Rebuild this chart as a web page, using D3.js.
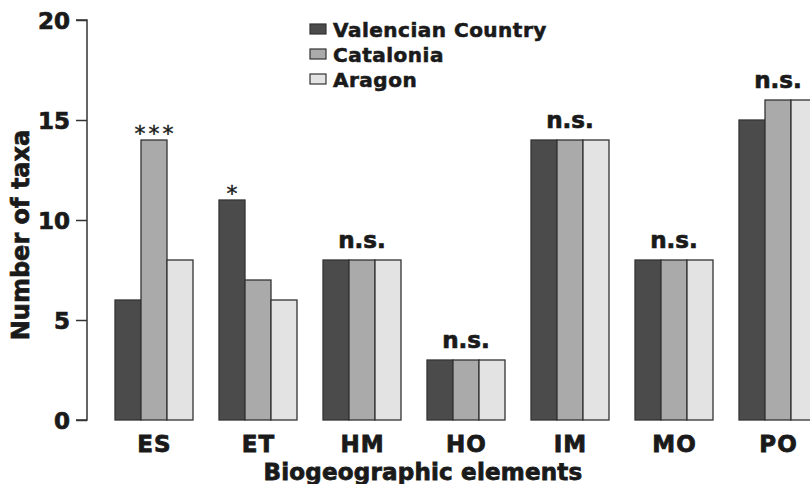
<!DOCTYPE html>
<html>
<head>
<meta charset="utf-8">
<script src="https://cdn.jsdelivr.net/npm/d3@7"></script>
<style>
  body { margin: 0; background: #fff; }
  text { font-family: "DejaVu Sans", sans-serif; font-weight: bold; fill: #1a1a1a; }
</style>
</head>
<body>
<div id="chart"></div>
<script>
var categories = ["ES", "ET", "HM", "HO", "IM", "MO", "PO"];
var seriesNames = ["Valencian Country", "Catalonia", "Aragon"];
var valencian = [6, 11, 8, 3, 14, 8, 15];
var catalonia = [14, 7, 8, 3, 14, 8, 16];
var aragon = [8, 6, 8, 3, 14, 8, 16];
var signif = ["***", "*", "n.s.", "n.s.", "n.s.", "n.s.", "n.s."];
var signifBar = [1, 0, -1, -1, -1, -1, -1]; // which bar the mark sits on, -1 = whole group
var yTicks = [0, 5, 10, 15, 20];
var colors = ["#4b4b4b", "#aaaaaa", "#e3e3e3"];

var W = 810, H = 484;
var series = [valencian, catalonia, aragon];

var svg = d3.select("#chart").append("svg")
  .attr("width", W).attr("height", H);

var y = d3.scaleLinear().domain([0, 20]).range([420, 20]);
var x = d3.scaleBand().domain(categories).range([89, 843])
  .paddingInner(0.25).paddingOuter(0.25);
var xs = d3.scaleBand().domain(d3.range(3)).range([0, x.bandwidth()]);

// y axis
var yAxis = d3.axisLeft(y).tickValues(yTicks).tickSize(11).tickPadding(6);
var gy = svg.append("g").attr("transform", "translate(87,0)").call(yAxis);
gy.select(".domain").attr("stroke", "#333").attr("stroke-width", 1.5).attr("d", "M-11,20H0V420H-11");
gy.selectAll(".tick line").attr("stroke", "#333").attr("stroke-width", 1.5);
gy.selectAll(".tick text").style("font-size", "23px").attr("fill", "#1a1a1a")
  .attr("font-family", null).attr("dy", "0.36em")
  .attr("stroke", "#1a1a1a").attr("stroke-width", 0.7);

// bars
categories.forEach(function(c, i) {
  var g = svg.append("g").attr("transform", "translate(" + x(c) + ",0)");
  g.selectAll("rect").data(series.map(function(s) { return s[i]; }))
    .enter().append("rect")
    .attr("x", function(d, j) { return xs(j); })
    .attr("y", function(d) { return y(d); })
    .attr("width", xs.bandwidth())
    .attr("height", function(d) { return y(0) - y(d); })
    .attr("fill", function(d, j) { return colors[j]; })
    .attr("stroke", "#333").attr("stroke-width", 1.3);

  var top, cx;
  if (signifBar[i] >= 0) {
    top = y(series[signifBar[i]][i]);
    cx = x(c) + xs(signifBar[i]) + xs.bandwidth() / 2;
  } else {
    top = y(d3.max(series, function(s) { return s[i]; }));
    cx = x(c) + x.bandwidth() / 2;
  }
  var isStar = signif[i].charAt(0) == "*";
  svg.append("text")
    .attr("x", isStar ? cx + 1.5 : cx)
    .attr("y", isStar ? top + 1 : top - 12)
    .attr("text-anchor", "middle")
    .style("font-size", isStar ? "22px" : "23px")
    .style("font-weight", isStar ? "normal" : "bold")
    .style("letter-spacing", isStar ? "3px" : "0px")
    .attr("stroke", "#1a1a1a").attr("stroke-width", isStar ? 0.4 : 0.7)
    .text(signif[i]);

  // category label
  svg.append("text")
    .attr("x", x(c) + x.bandwidth() / 2 + 0.5)
    .attr("y", 452)
    .attr("text-anchor", "middle")
    .style("font-size", "23px")
    .style("letter-spacing", "1px")
    .attr("stroke", "#1a1a1a").attr("stroke-width", 0.8)
    .text(c);
});

// axis titles
svg.append("text")
  .attr("x", 423).attr("y", 480)
  .attr("text-anchor", "middle")
  .style("font-size", "23px")
  .style("letter-spacing", "0.2px")
  .attr("stroke", "#1a1a1a").attr("stroke-width", 0.8)
  .text("Biogeographic elements");

svg.append("text")
  .attr("transform", "translate(29,235) rotate(-90)")
  .attr("text-anchor", "middle")
  .style("font-size", "24px")
  .attr("stroke", "#1a1a1a").attr("stroke-width", 0.7)
  .text("Number of taxa");

// legend
var legend = svg.append("g").attr("transform", "translate(310,22)");
seriesNames.forEach(function(n, j) {
  var row = legend.append("g").attr("transform", "translate(0," + (j * 25) + ")");
  row.append("rect").attr("x", 0).attr("y", 2).attr("width", 16).attr("height", 10)
    .attr("fill", colors[j]).attr("stroke", "#333").attr("stroke-width", 1.2);
  row.append("text").attr("x", 23).attr("y", 15)
    .style("font-size", "20px")
    .style("letter-spacing", "0.5px")
    .attr("stroke", "#1a1a1a").attr("stroke-width", 0.6)
    .text(n);
});
</script>
</body>
</html>
